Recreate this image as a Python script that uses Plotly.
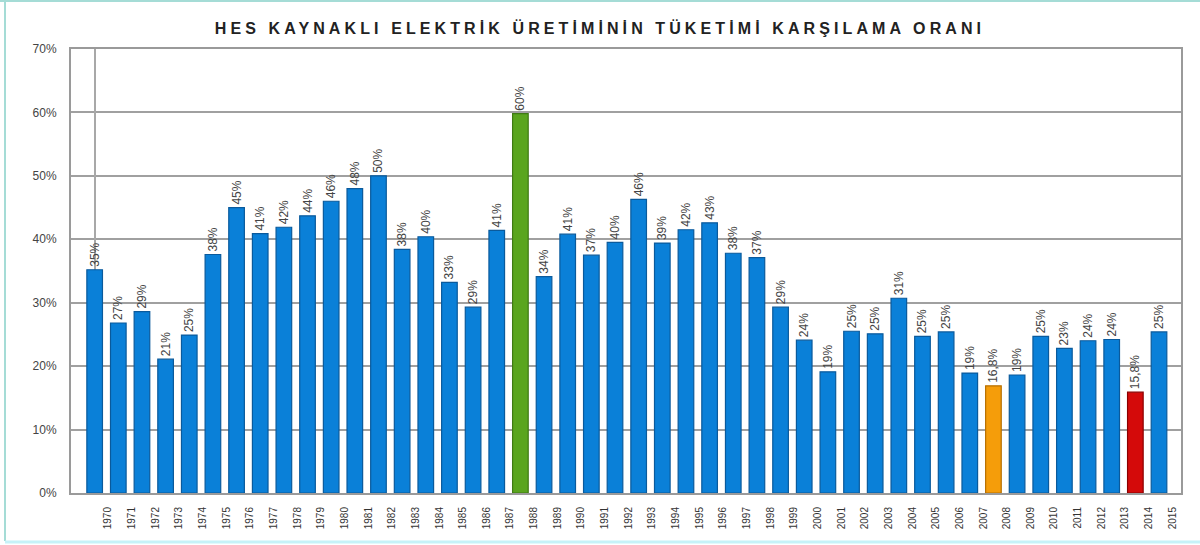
import plotly.graph_objects as go

years = list(range(1970, 2016))
values = [35.2, 26.8, 28.6, 21.1, 24.9, 37.6, 45.0, 40.9, 41.9, 43.7, 46.0, 48.0, 50.0,
          38.4, 40.4, 33.2, 29.3, 41.4, 59.8, 34.1, 40.8, 37.5, 39.5, 46.3, 39.4, 41.5,
          42.6, 37.8, 37.1, 29.3, 24.1, 19.1, 25.5, 25.1, 30.7, 24.7, 25.4, 18.9, 16.9,
          18.6, 24.7, 22.8, 24.0, 24.2, 15.9, 25.4]
labels = ["35%", "27%", "29%", "21%", "25%", "38%", "45%", "41%", "42%", "44%", "46%", "48%", "50%",
          "38%", "40%", "33%", "29%", "41%", "60%", "34%", "41%", "37%", "40%", "46%", "39%", "42%",
          "43%", "38%", "37%", "29%", "24%", "19%", "25%", "25%", "31%", "25%", "25%", "19%", "16,8%",
          "19%", "25%", "23%", "24%", "24%", "15,8%", "25%"]
highlight = {1988: "#5aa51e", 2008: "#f59d0a", 2014: "#d40a0a"}
edge_color = {1988: "#3f7a14", 2008: "#b87000", 2014: "#8a0000"}
base_color = "#0a80d8"

y_ticks = [0, 10, 20, 30, 40, 50, 60, 70]
y_text = [f"{v}%" for v in y_ticks]

idx = list(range(len(years)))
colors = [highlight.get(y, base_color) for y in years]
edges = [edge_color.get(y, "#0a5a9c") for y in years]

narrow = "Liberation Sans Narrow, Arial Narrow, Liberation Sans, Arial"

fig = go.Figure(go.Bar(
    x=idx, y=values, width=0.66,
    marker=dict(color=colors, line=dict(color=edges, width=1.2)),
    text=labels, textposition="outside", textangle=-90, constraintext="none",
    textfont=dict(family=narrow, size=12, color="#444"),
    cliponaxis=False,
))

L, R, T, B = 71, 19, 49, 52
PW, PH = 1200 - L - R, 545 - T - B

fig.update_layout(
    width=1200, height=545,
    margin=dict(l=L, r=R, t=T, b=B),
    paper_bgcolor="white", plot_bgcolor="white",
    showlegend=False,
    title=dict(text="<b>HES KAYNAKLI ELEKTRİK ÜRETİMİNİN TÜKETİMİ KARŞILAMA ORANI</b>",
               x=0.5, xanchor="center", y=1 - 28 / 545, yanchor="middle",
               font=dict(family="Liberation Sans, Arial", size=16, color="#222")),
    shapes=[
        dict(type="line", xref="paper", yref="paper",
             x0=(0 - L) / PW, x1=(1200 - L) / PW, y0=1 + (T - 1) / PH, y1=1 + (T - 1) / PH,
             line=dict(color="#a5dcd6", width=2)),
        dict(type="line", xref="paper", yref="paper",
             x0=(5 - L) / PW, x1=(5 - L) / PW, y0=-(541 - (T + PH)) / PH, y1=1 + (T - 1) / PH,
             line=dict(color="#a5dcd6", width=2)),
        dict(type="line", xref="paper", yref="paper",
             x0=(5 - L) / PW, x1=(1200 - L) / PW, y0=-(542 - (T + PH)) / PH, y1=-(542 - (T + PH)) / PH,
             line=dict(color="#c6f2f8", width=3)),
    ],
)

fig.update_xaxes(
    range=[-1.0, 45.93],
    tickmode="array", tickvals=[i + 0.57 for i in idx], ticktext=[str(y) for y in years],
    tickangle=-90, tickfont=dict(family=narrow, size=10, color="#333"),
    ticks="outside", ticklen=8, tickcolor="rgba(0,0,0,0)",
    showgrid=False, zeroline=True, zerolinecolor="#a8a8a8", zerolinewidth=2,
    showline=True, linecolor="#9a9a9a", linewidth=2, mirror=True,
)
fig.update_yaxes(
    range=[0, 70], tickmode="array", tickvals=y_ticks, ticktext=y_text,
    tickfont=dict(family="Liberation Sans, Arial", size=12, color="#444"),
    showgrid=True, gridcolor="#a0a0a0", gridwidth=1.5,
    showline=True, linecolor="#9a9a9a", linewidth=2, mirror=True,
    ticks="outside", ticklen=10, tickcolor="rgba(0,0,0,0)", zeroline=False,
)

post = (
    "document.body.style.margin='0px';"
    "var t=document.querySelector('.gtitle');"
    "if(t){t.style.letterSpacing='4.1px';}"
)
fig.write_html("out.html", config={"displayModeBar": False}, post_script=post)
